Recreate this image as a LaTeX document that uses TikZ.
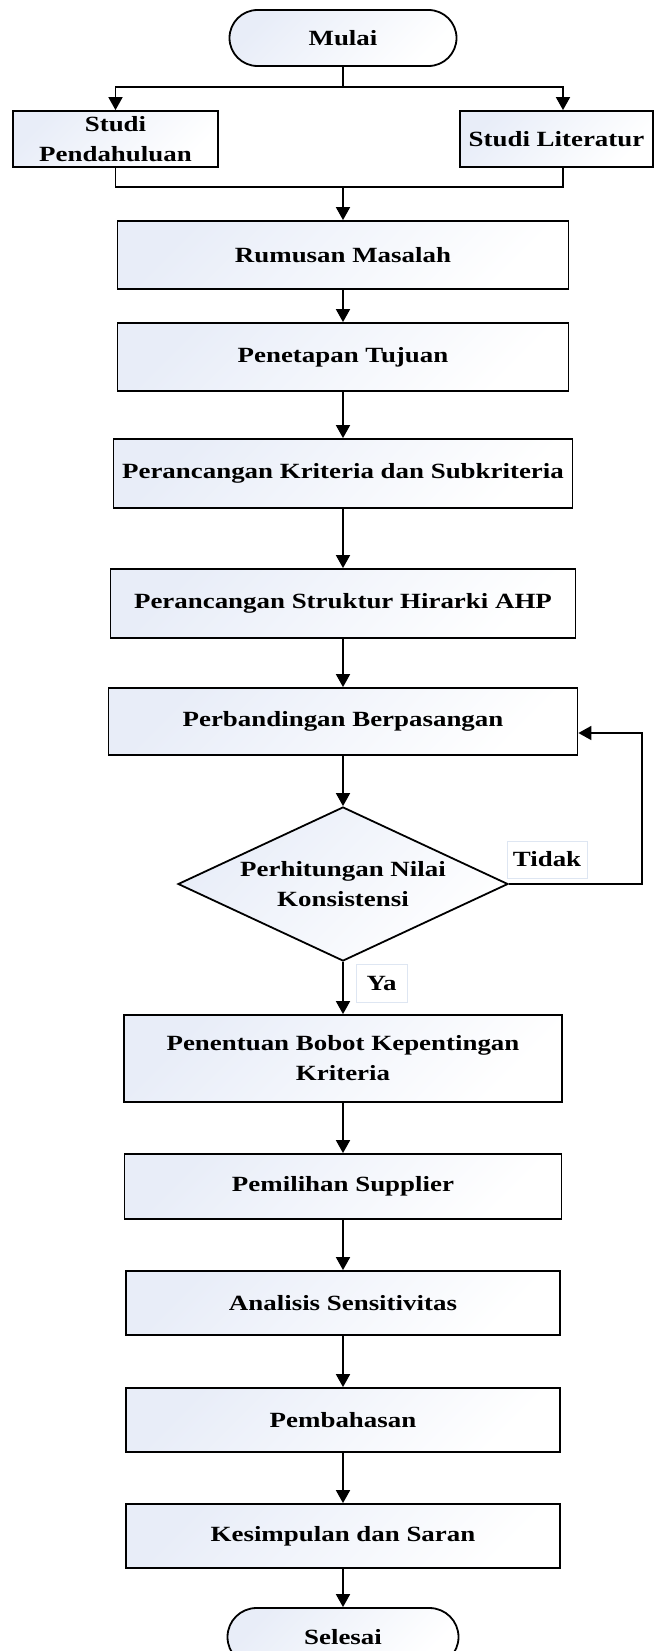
\documentclass[tikz,border=0pt]{standalone}
\usepackage{fontspec}
\newfontfamily\diafont{Liberation Serif}[FakeStretch=1.24]
\usetikzlibrary{shapes.geometric,shapes.misc,arrows.meta}
\definecolor{shadeblue}{RGB}{232,237,248}
\definecolor{lblborder}{RGB}{222,230,242}
\begin{document}
\begin{tikzpicture}[x=1pt,y=-1pt,
  every node/.style={font=\diafont\bfseries\fontsize{21.7}{30}\selectfont, inner sep=0pt, align=center},
  shadefill/.style={left color=shadeblue, right color=white, shading angle=45},
  proc/.style={draw, line width=1.8pt, rectangle, shadefill},
  term/.style={draw, line width=1.8pt, rounded rectangle, shadefill},
  decis/.style={draw, line width=1.8pt, diamond, shadefill},
  lbl/.style={draw=lblborder, line width=1pt, fill=white},
  conn/.style={line width=1.8pt},
  arr/.style={conn, -{Triangle[length=13pt,width=14pt]}},
]
\useasboundingbox (0,0) rectangle (656,1651);
\clip (0,0) rectangle (656,1651);
\fill[white] (0,0) rectangle (656,1651);

\node[term, minimum width=227pt, minimum height=56pt] (mulai) at (343,38) {Mulai};
\node[proc, minimum width=205pt, minimum height=56pt] (sp) at (115.5,139) {Studi\\Pendahuluan};
\node[proc, minimum width=193pt, minimum height=56pt] (sl) at (556.5,139) {Studi Literatur};
\node[proc, minimum width=451pt, minimum height=68pt] (rm) at (343,255) {Rumusan Masalah};
\node[proc, minimum width=451pt, minimum height=68pt] (pt) at (343,357) {Penetapan Tujuan};
\node[proc, minimum width=459pt, minimum height=69pt] (pk) at (343,473.5) {Perancangan Kriteria dan Subkriteria};
\node[proc, minimum width=465pt, minimum height=69pt] (ps) at (343,603.5) {Perancangan Struktur Hirarki AHP};
\node[proc, minimum width=469pt, minimum height=67pt] (pb) at (343,721.5) {Perbandingan Berpasangan};
\node[decis, minimum width=330pt, minimum height=154pt] (dk) at (343,884) {};
\node (dkt) at (343,884) {Perhitungan Nilai\\Konsistensi};
\node[lbl, minimum width=80pt, minimum height=37pt] (tidak) at (547,859.5) {Tidak};
\node[lbl, minimum width=51pt, minimum height=38pt] (ya) at (381.5,983) {Ya};
\node[proc, minimum width=438pt, minimum height=87pt] (pbk) at (343,1058.5) {Penentuan Bobot Kepentingan\\Kriteria};
\node[proc, minimum width=437pt, minimum height=65pt] (psu) at (343,1186.5) {Pemilihan Supplier};
\node[proc, minimum width=434pt, minimum height=64pt] (as) at (343,1303) {Analisis Sensitivitas};
\node[proc, minimum width=434pt, minimum height=64pt] (pm) at (343,1420) {Pembahasan};
\node[proc, minimum width=434pt, minimum height=64pt] (ks) at (343,1536) {Kesimpulan dan Saran};
\node[term, minimum width=231pt, minimum height=58pt] (sel) at (343,1637) {Selesai};

\coordinate (split) at (343,87);
\coordinate (join) at (343,187);
\coordinate (fb) at (642,733);
\draw[conn] (mulai.south) -- (split);
\draw[arr] (split) -| (sp.north);
\draw[arr] (split) -| ([xshift=6.5pt]sl.north);
\draw[conn] (sp.south) |- (join);
\draw[conn] ([xshift=6.5pt]sl.south) |- (join);
\draw[arr] (join) -- (rm.north);
\draw[arr] (rm) -- (pt);
\draw[arr] (pt) -- (pk);
\draw[arr] (pk) -- (ps);
\draw[arr] (ps) -- (pb);
\draw[arr] (pb) -- (dk);
\draw[arr] (dk.east) -| (fb) -- (pb.east |- fb);
\draw[arr] (dk) -- (pbk);
\draw[arr] (pbk) -- (psu);
\draw[arr] (psu) -- (as);
\draw[arr] (as) -- (pm);
\draw[arr] (pm) -- (ks);
\draw[arr] (ks) -- (sel);
\end{tikzpicture}
\end{document}
